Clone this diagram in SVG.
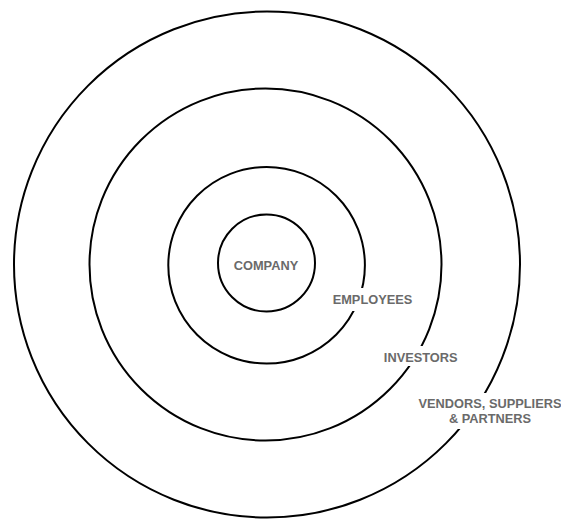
<svg xmlns="http://www.w3.org/2000/svg" width="561" height="519" viewBox="0 0 561 519">
<style>
.ring{fill:none;stroke:#000;stroke-width:2}
.bg{fill:#fff}
.lbl{font-family:"Liberation Sans",Arial,sans-serif;font-weight:bold;font-size:12.8px;fill:#6a6a6a;text-anchor:middle}
</style>
<rect width="561" height="519" fill="#fff"/>
<g id="rings">
<circle id="ring-vendors" class="ring" cx="267" cy="264.5" r="253"/>
<circle id="ring-investors" class="ring" cx="265.5" cy="264.5" r="176"/>
<circle id="ring-employees" class="ring" cx="266.6" cy="265.3" r="98.3"/>
<circle id="ring-company" class="ring" cx="266.5" cy="263" r="48.5"/>
</g>
<g id="company">
<text class="lbl" x="266" y="270">COMPANY</text>
</g>
<g id="employees">
<rect class="bg" x="329" y="288" width="87" height="23"/>
<text class="lbl" x="372.5" y="304">EMPLOYEES</text>
</g>
<g id="investors">
<rect class="bg" x="381" y="346" width="80" height="20"/>
<text class="lbl" x="420.7" y="361.7">INVESTORS</text>
</g>
<g id="vendors">
<rect class="bg" x="416" y="393" width="145" height="36"/>
<text class="lbl" x="490" y="407.7">VENDORS, SUPPLIERS</text>
<text class="lbl" x="490" y="423.3">&amp; PARTNERS</text>
</g>
</svg>
